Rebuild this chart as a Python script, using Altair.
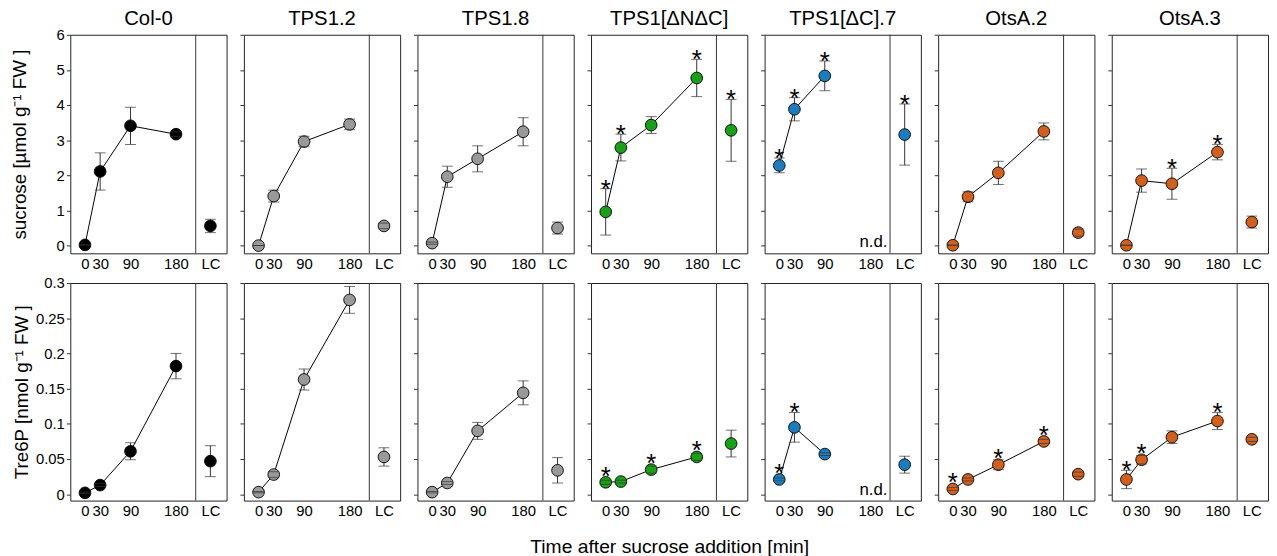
import altair as alt
import pandas as pd

genotypes = ["Col-0", "TPS1.2", "TPS1.8", "TPS1[ΔNΔC]", "TPS1[ΔC].7", "OtsA.2", "OtsA.3"]
point_colors = ["#000000", "#999999", "#999999", "#18a018", "#1b7dc0", "#d2601c", "#d2601c"]
time_points = [0, 30, 90, 180]
lc_label = "LC"

suc_mean = [
    [0.02, 2.11, 3.41, 3.17, 0.56],
    [0.00, 1.41, 2.96, 3.45, 0.56],
    [0.07, 1.96, 2.47, 3.24, 0.50],
    [0.96, 2.79, 3.43, 4.77, 3.28],
    [2.28, 3.88, 4.83, None, 3.16],
    [0.01, 1.39, 2.07, 3.25, 0.37],
    [0.01, 1.85, 1.76, 2.66, 0.67],
]
suc_err = [
    [0.00, 0.53, 0.53, 0.07, 0.19],
    [0.00, 0.17, 0.15, 0.15, 0.08],
    [0.03, 0.30, 0.37, 0.40, 0.17],
    [0.66, 0.38, 0.24, 0.53, 0.88],
    [0.21, 0.33, 0.42, None, 0.87],
    [0.00, 0.14, 0.33, 0.24, 0.10],
    [0.00, 0.33, 0.44, 0.22, 0.17],
]
suc_sig = [
    [0, 0, 0, 0, 0],
    [0, 0, 0, 0, 0],
    [0, 0, 0, 0, 0],
    [1, 1, 0, 1, 1],
    [1, 1, 1, 0, 1],
    [0, 0, 0, 0, 0],
    [0, 0, 1, 1, 0],
]
t6p_mean = [
    [0.002, 0.013, 0.061, 0.182, 0.047],
    [0.003, 0.028, 0.163, 0.276, 0.053],
    [0.003, 0.016, 0.090, 0.144, 0.034],
    [0.017, 0.018, 0.035, 0.053, 0.072],
    [0.021, 0.095, 0.057, None, 0.042],
    [0.0075, 0.021, 0.042, 0.075, 0.0285],
    [0.021, 0.049, 0.081, 0.104, 0.078],
]
t6p_err = [
    [0.001, 0.002, 0.012, 0.018, 0.022],
    [0.001, 0.004, 0.015, 0.019, 0.013],
    [0.001, 0.002, 0.012, 0.017, 0.018],
    [0.003, 0.002, 0.005, 0.005, 0.019],
    [0.002, 0.021, 0.002, None, 0.012],
    [0.002, 0.002, 0.007, 0.003, 0.003],
    [0.013, 0.006, 0.009, 0.012, 0.003],
]
t6p_sig = [
    [0, 0, 0, 0, 0],
    [0, 0, 0, 0, 0],
    [0, 0, 0, 0, 0],
    [1, 0, 1, 1, 0],
    [1, 1, 0, 0, 0],
    [1, 0, 1, 1, 0],
    [1, 1, 0, 1, 0],
]
not_detected = ["TPS1[ΔC].7"]

FONT = "Liberation Sans"
LC_POS = 248
SEP_POS = 219
X_DOMAIN = [-29, 280]
PW = 158

metrics = [
    dict(mean=suc_mean, err=suc_err, sig=suc_sig, domain=[-0.22, 6],
         ticks=[0, 1, 2, 3, 4, 5, 6], title="sucrose [µmol g⁻¹ FW ]",
         height=221, tpad=27, rad=0.19),
    dict(mean=t6p_mean, err=t6p_err, sig=t6p_sig, domain=[-0.009, 0.3],
         ticks=[0, 0.05, 0.1, 0.15, 0.2, 0.25, 0.3], title="Tre6P [nmol g⁻¹ FW ]",
         height=220, tpad=4, rad=0.0093),
]


def panel(gi, mi):
    m = metrics[mi]
    xs = time_points + [LC_POS]
    rows = []
    for k, xv in enumerate(xs):
        mv = m["mean"][gi][k]
        if mv is None:
            continue
        ev = m["err"][gi][k]
        rows.append(dict(x=xv, mean=mv, lo=mv - ev, hi=mv + ev,
                         sig=m["sig"][gi][k], lc=int(xv == LC_POS),
                         star=max(mv + ev, mv + m["rad"])))
    df = pd.DataFrame(rows)
    df_line = df[df.lc == 0]
    df_star = df[df.sig == 1]

    last_row = mi == 1
    xaxis_kw = dict(values=xs, labelExpr="datum.value == %d ? '%s' : datum.label" % (LC_POS, lc_label),
                    ticks=False, domain=False, grid=False, labelPadding=3,
                    labelFontSize=15, labelColor="black", labelFont=FONT)
    if last_row and gi == 3:
        xaxis_kw.update(title="Time after sucrose addition [min]", titleFontSize=19.5,
                        titleFontWeight="normal", titleFont=FONT, titlePadding=19,
                        titleColor="black")
    else:
        xaxis_kw.update(title=None)
    xenc = alt.X("x:Q", scale=alt.Scale(domain=X_DOMAIN, nice=False, zero=False),
                 axis=alt.Axis(**xaxis_kw))

    yaxis_kw = dict(values=m["ticks"], grid=False, domain=False, tickSize=4,
                    tickColor="#333333", format="~g")
    if gi == 0:
        yaxis_kw.update(labels=True, labelFontSize=15, labelFont=FONT, labelColor="black",
                        labelPadding=2, title=m["title"], titleFontSize=19,
                        titleFontWeight="normal", titleFont=FONT, titleColor="black",
                        titlePadding=m["tpad"])
    else:
        yaxis_kw.update(labels=False, title=None)
    yscale = alt.Scale(domain=m["domain"], nice=False, zero=False)

    def yenc(field):
        return alt.Y(field + ":Q", scale=yscale, axis=alt.Axis(**yaxis_kw))

    base = alt.Chart(df)
    sep = alt.Chart(pd.DataFrame({"x": [SEP_POS]})).mark_rule(
        color="#333333", strokeWidth=1).encode(x=xenc)
    err_rule = base.mark_rule(color="#333333", strokeWidth=1).encode(
        x=xenc, y=yenc("lo"), y2="hi:Q")
    line = alt.Chart(df_line).mark_line(color="black", strokeWidth=1).encode(
        x=xenc, y=yenc("mean"))
    pts = base.mark_circle(size=140, color=point_colors[gi], opacity=1,
                           stroke="black", strokeWidth=0.9).encode(
        x=xenc, y=yenc("mean"))
    cap_lo = base.mark_tick(orient="horizontal", size=11, thickness=1, color="#333333").encode(
        x=xenc, y=yenc("lo"))
    cap_hi = base.mark_tick(orient="horizontal", size=11, thickness=1, color="#333333").encode(
        x=xenc, y=yenc("hi"))
    layers = [sep, err_rule, line, pts, cap_lo, cap_hi]
    if len(df_star):
        stars = alt.Chart(df_star).mark_text(text="*", fontSize=26, font=FONT,
                                             baseline="alphabetic", dy=9, color="black").encode(
            x=xenc, y=yenc("star"))
        layers.append(stars)
    if genotypes[gi] in not_detected:
        nd = alt.Chart(pd.DataFrame({"x": [214], "y": [0], "t": ["n.d."]})).mark_text(
            fontSize=17, font=FONT, align="right", baseline="alphabetic", dy=1,
            color="black").encode(x=xenc, y=yenc("y"), text="t:N")
        layers.append(nd)
    ch = alt.layer(*layers).properties(width=PW, height=m["height"])
    if mi == 0:
        ch = ch.properties(title=alt.TitleParams(genotypes[gi], fontSize=20.5, font=FONT,
                                                 fontWeight="normal",
                                                 offset=(-2 if gi == 0 else 5),
                                                 color="black"))
    return ch


row1 = alt.hconcat(*[panel(g, 0) for g in range(7)], spacing=17.5, bounds="flush")
row2 = alt.hconcat(*[panel(g, 1) for g in range(7)], spacing=17.5, bounds="flush")
chart = alt.vconcat(row1, row2, spacing=3).properties(
    padding={"left": 2, "top": -3, "right": 0, "bottom": 0}
).configure(font=FONT).configure_view(stroke="#222222", strokeWidth=1)

chart.save("out.html", embed_options={"renderer": "svg", "actions": False})
